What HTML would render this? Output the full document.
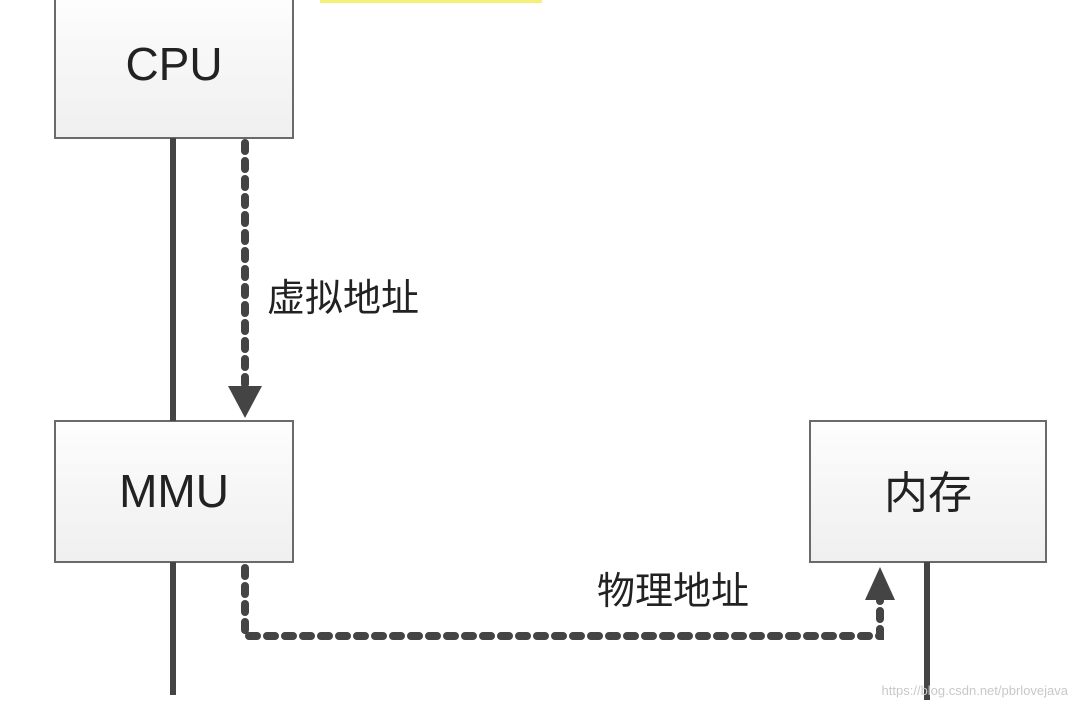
<!DOCTYPE html>
<html><head><meta charset="utf-8"><style>
html,body{margin:0;padding:0;background:#fff;}
body{width:1080px;height:705px;overflow:hidden;position:relative;}
</style></head><body>
<svg width="1080" height="705" viewBox="0 0 1080 705" xmlns="http://www.w3.org/2000/svg">
<defs>
<linearGradient id="g" x1="0" y1="0" x2="0" y2="1">
<stop offset="0" stop-color="#fdfdfd"/><stop offset="1" stop-color="#efefef"/>
</linearGradient>
</defs>
<rect x="320" y="0" width="222" height="3" fill="#f4f07a"/>
<rect x="55" y="-2" width="238" height="140" fill="url(#g)" stroke="#6a6a6a" stroke-width="2"/>
<rect x="55" y="421" width="238" height="141" fill="url(#g)" stroke="#6a6a6a" stroke-width="2"/>
<rect x="810" y="421" width="236" height="141" fill="url(#g)" stroke="#6a6a6a" stroke-width="2"/>
<g stroke="#444" stroke-width="6">
<line x1="173" y1="138" x2="173" y2="421"/>
<line x1="173" y1="562" x2="173" y2="695"/>
<line x1="927" y1="562" x2="927" y2="700"/>
</g>
<g stroke="#444" stroke-width="8" stroke-linecap="round" fill="none" stroke-dasharray="8 10">
<line x1="245" y1="143" x2="245" y2="384"/>
<path d="M245 568 L245 636 L880 636 L880 600"/>
</g>
<polygon points="228,386 262,386 245,418" fill="#444"/>
<polygon points="865,600 895,600 880,567" fill="#444"/>
<g font-family="'Liberation Sans','Noto Sans CJK SC',sans-serif" fill="#222">
<text x="174" y="80" font-size="46" text-anchor="middle">CPU</text>
<text x="174" y="507" font-size="46" text-anchor="middle">MMU</text>
<text x="928" y="508" font-size="44" text-anchor="middle">内存</text>
<text x="267" y="311" font-size="38">虚拟地址</text>
<text x="597" y="604" font-size="38">物理地址</text>
<text x="1068" y="695" font-size="13" fill="#c8c8c8" text-anchor="end">https://blog.csdn.net/pbrlovejava</text>
</g>
</svg>
</body></html>
